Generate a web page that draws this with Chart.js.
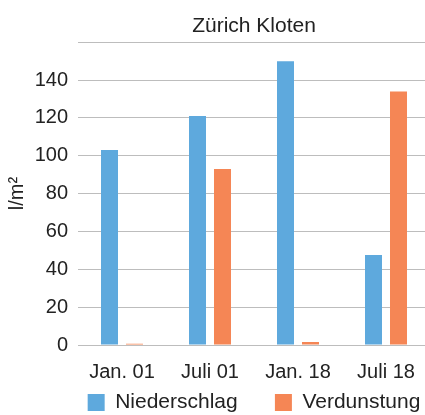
<!DOCTYPE html>
<html>
<head>
<meta charset="utf-8">
<script src="https://cdn.jsdelivr.net/npm/chart.js@4"></script>
<style>
  html, body { margin: 0; padding: 0; background: #fff; overflow: hidden; }
  #wrap { width: 430px; height: 415px; }
</style>
</head>
<body>
<div id="wrap"><canvas id="chart-canvas" width="430" height="415"></canvas></div>
<script>
const categories = ['Jan. 01', 'Juli 01', 'Jan. 18', 'Juli 18']
const niederschlag = [103, 121, 150, 47.5]
const verdunstung = [0.7, 93, 1.6, 134]
const yTicks = [0, 20, 40, 60, 80, 100, 120, 140]

const FONT = '"Liberation Sans", Arial, sans-serif'
const TEXT = '#222'

// widen the gap between the two legend entries
const legendGap = '     '
const LEGEND_HEIGHT = 31

// legend reserves extra room by default, keep it to one tight row
const tightLegend = {
  id: 'tightLegend',
  beforeInit(chart) {
    const legend = chart.legend
    if (!legend) return
    const fit = legend.fit
    legend.fit = function () {
      fit.call(this)
      this.height = LEGEND_HEIGHT
    }
  }
}

const ctx = document.querySelector('#chart-canvas')
new Chart(ctx, {
  type: 'bar',
  data: {
    labels: categories,
    datasets: [
      {
        label: 'Niederschlag',
        data: niederschlag,
        backgroundColor: '#5ea9dd'
      },
      {
        label: 'Verdunstung',
        data: verdunstung,
        backgroundColor: '#f58655'
      }
    ]
  },
  options: {
    responsive: false,
    animation: false,
    categoryPercentage: 0.568,
    barPercentage: 0.68,
    layout: { padding: { left: 0, right: 0, top: 14, bottom: 0 } },
    plugins: {
      title: {
        display: true,
        text: 'Zürich Kloten',
        fullSize: false,
        color: TEXT,
        font: { family: FONT, size: 21, weight: 'normal' },
        padding: { top: 0, bottom: 3 }
      },
      legend: {
        position: 'bottom',
        fullSize: false,
        labels: {
          color: TEXT,
          font: { family: FONT, size: 21 },
          boxWidth: 17,
          boxHeight: 17,
          padding: 8,
          generateLabels: chart =>
            Chart.defaults.plugins.legend.labels.generateLabels(chart).map((item, i) => {
              if (i === 0) item.text = item.text + legendGap
              return item
            })
        }
      },
      tooltip: { enabled: false }
    },
    scales: {
      x: {
        grid: { display: false, drawTicks: false },
        border: { display: false },
        ticks: {
          color: TEXT,
          font: { family: FONT, size: 20 },
          padding: 15,
          maxRotation: 0
        },
        afterFit: axis => { axis.height = 39 }
      },
      y: {
        min: 0,
        max: 160,
        afterBuildTicks: axis => {
          axis.ticks = yTicks.concat([160]).map(v => ({ value: v }))
        },
        grid: { color: '#bdbdbd', lineWidth: 1, drawTicks: false },
        border: { display: false },
        ticks: {
          color: TEXT,
          font: { family: FONT, size: 20 },
          padding: 10,
          callback: v => (yTicks.includes(v) ? String(v) : '')
        },
        title: {
          display: true,
          text: 'l/m²',
          color: TEXT,
          font: { family: FONT, size: 20 },
          padding: { top: 5, bottom: 0 }
        },
        afterFit: axis => { axis.width = 78 }
      }
    }
  },
  plugins: [tightLegend]
})
</script>
</body>
</html>
